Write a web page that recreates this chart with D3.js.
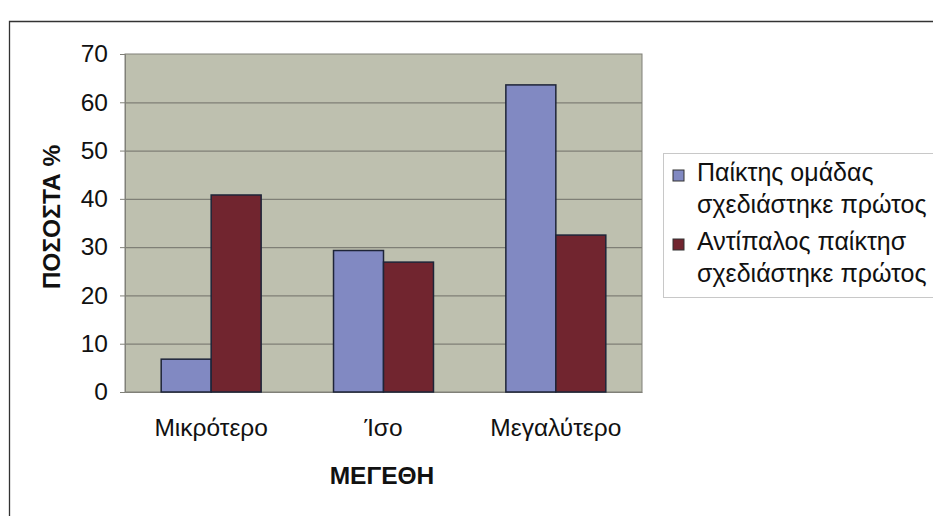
<!DOCTYPE html>
<html><head><meta charset="utf-8">
<script src="https://cdn.jsdelivr.net/npm/d3@7"></script>
<style>
html,body{margin:0;padding:0;background:#fff;}
svg{display:block;font-family:"Liberation Sans",Arial,sans-serif;}
</style></head>
<body>
<svg id="chart" width="933" height="516"></svg>
<script>
const categories = ["Μικρότερο", "Ίσο", "Μεγαλύτερο"];
const seriesNames = ["Παίκτης ομάδας σχεδιάστηκε πρώτος", "Αντίπαλος παίκτησ σχεδιάστηκε πρώτος"];
const seriesA = [6.8, 29.3, 63.6];
const seriesB = [40.8, 26.9, 32.5];
const yTicks = [0, 10, 20, 30, 40, 50, 60, 70];
const legendLines = [["Παίκτης ομάδας", "σχεδιάστηκε πρώτος"], ["Αντίπαλος παίκτησ", "σχεδιάστηκε πρώτος"]];
const colors = ["#8189c2", "#71252f"];

const FS = 24.5;
const svg = d3.select("#chart");
const plot = {left: 125, right: 642, top: 54, bottom: 392};

// outer frame
svg.append("path").attr("d", "M9.5,520 L9.5,21.5 L940,21.5").attr("fill", "none").attr("stroke", "#333").attr("stroke-width", 1.3);

const x = d3.scaleBand().domain(categories).range([plot.left, plot.right]).paddingInner(0.42).paddingOuter(0.21);
const xs = d3.scaleBand().domain([0, 1]).range([0, x.bandwidth()]);
const y = d3.scaleLinear().domain([0, 70]).range([plot.bottom, plot.top]);

svg.append("rect").attr("x", plot.left).attr("y", plot.top).attr("width", plot.right - plot.left).attr("height", plot.bottom - plot.top)
  .attr("fill", "#bec0af").attr("stroke", "#808078").attr("stroke-width", 1);

// gridlines
svg.append("g").selectAll("line").data(yTicks.filter(d => d > 0 && d < 70)).join("line")
  .attr("x1", plot.left).attr("x2", plot.right).attr("y1", d => y(d) + 0.5).attr("y2", d => y(d) + 0.5)
  .attr("stroke", "#7f7f76").attr("stroke-width", 1.2);

// y axis
const yAxis = d3.axisLeft(y).tickValues(yTicks).tickSize(5).tickPadding(12);
const gy = svg.append("g").attr("transform", `translate(${plot.left},0)`).call(yAxis);
gy.select(".domain").attr("stroke", "#808078");
gy.selectAll(".tick line").attr("stroke", "#808078");
gy.selectAll(".tick text").attr("font-size", FS).attr("fill", "#111").attr("font-family", "Liberation Sans, Arial, sans-serif");

// x axis
const xAxis = d3.axisBottom(x).tickSize(0).tickPadding(27);
const gx = svg.append("g").attr("transform", `translate(0,${plot.bottom})`).call(xAxis);
gx.select(".domain").attr("stroke", "#808078");
gx.selectAll(".tick text").attr("font-size", FS).attr("fill", "#111").attr("font-family", "Liberation Sans, Arial, sans-serif");

// bars
const data = categories.map((c, i) => ({c, vals: [seriesA[i], seriesB[i]]}));
const groups = svg.append("g").selectAll("g").data(data).join("g").attr("transform", d => `translate(${x(d.c)},0)`);
groups.selectAll("rect").data(d => d.vals.map((v, k) => ({v, k}))).join("rect")
  .attr("x", d => xs(d.k)).attr("width", xs.bandwidth())
  .attr("y", d => y(d.v)).attr("height", d => y(0) - y(d.v))
  .attr("fill", d => colors[d.k]).attr("stroke", "#1e2438").attr("stroke-width", 1.5);

// axis titles
svg.append("text").attr("transform", "translate(60,217) rotate(-90)").attr("text-anchor", "middle")
  .attr("font-size", FS).attr("font-weight", "bold").attr("fill", "#111").text("ΠΟΣΟΣΤΑ %");
svg.append("text").attr("x", 382).attr("y", 484).attr("text-anchor", "middle")
  .attr("font-size", FS).attr("font-weight", "bold").attr("fill", "#111").text("ΜΕΓΕΘΗ");

// legend
const lg = svg.append("g");
lg.append("rect").attr("x", 663.5).attr("y", 153.5).attr("width", 280).attr("height", 144)
  .attr("fill", "#fff").attr("stroke", "#c8c8c8");
const entries = lg.selectAll("g.e").data(seriesNames).join("g").attr("class", "e")
  .attr("transform", (d, i) => `translate(673,${181 + i * 69})`);
entries.append("rect").attr("y", -11).attr("width", 11).attr("height", 11).attr("fill", (d, i) => colors[i]).attr("stroke", "#333").attr("stroke-width", 1);
entries.each(function(d, i) {
  const t = d3.select(this).append("text").attr("font-size", 25).attr("fill", "#111");
  legendLines[i].forEach((ln, j) => t.append("tspan").attr("x", 24).attr("y", j * 31.5).text(ln));
});
</script>
</body></html>
